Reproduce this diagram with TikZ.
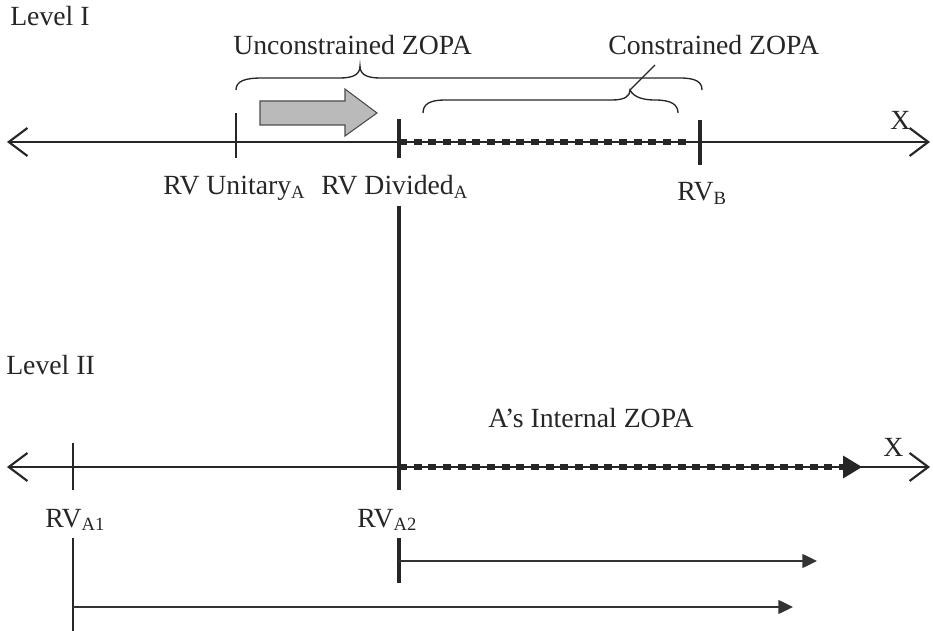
\documentclass[tikz,border=0pt]{standalone}
\usepackage{fontspec}
\setmainfont{Liberation Serif}
\usetikzlibrary{arrows.meta}
\newcommand\sbs[1]{\raisebox{-0.3ex}{\fontsize{14}{14}\selectfont #1}}
\tikzset{
  lbl/.style={inner sep=0pt, anchor=base west, font=\fontsize{20.8}{24}\selectfont, text=black!85},
  axis/.style={line width=2pt, black!85, {Straight Barb[length=14pt,width=21pt,line width=1.6pt]}-{Straight Barb[length=14pt,width=21pt,line width=1.6pt]}},
  zopa/.style={line width=5.2pt, black!85, dash pattern=on 6pt off 5pt},
  thicktick/.style={line width=3.7pt, black!85},
  thintick/.style={line width=0.9pt, black!85},
  brace/.style={line width=1pt, black!85},
  thinarrow/.style={line width=1pt, black!80, -{Triangle[length=11pt,width=10.5pt]}},
}
\begin{document}
\begin{tikzpicture}[x=0.75pt,y=-0.75pt]
\useasboundingbox (0,0) rectangle (933,631);
% coordinates
\coordinate (aL) at (7,142);
\coordinate (aR) at (930,142);
\coordinate (bL) at (7,467);
\coordinate (bR) at (930,467);
\coordinate (dTop) at (399,119);
\coordinate (dA) at (399,142);
\coordinate (dB) at (399,158);
\coordinate (dC) at (399,206);
\coordinate (dD) at (399,467);
\coordinate (dE) at (399,490);
\coordinate (dF) at (399,538);
\coordinate (dG) at (399,561);
\coordinate (dH) at (399,583);
\coordinate (uT) at (236,113);
\coordinate (uB) at (236,158);
\coordinate (bT) at (700,120);
\coordinate (bM) at (700,142);
\coordinate (bB) at (700,165);
\coordinate (a1T) at (73,443);
\coordinate (a1B) at (73,490);
\coordinate (a1C) at (73,538);
\coordinate (a1M) at (73,607);
\coordinate (a1E) at (73,631);
\coordinate (zEnd) at (688,142);
\coordinate (izEnd) at (862,467);
\coordinate (r2End) at (817,561);
\coordinate (r1End) at (793,607);
\coordinate (ptrA) at (630,90);
\coordinate (ptrB) at (655,65);

% texts
\node[lbl] (lev1) at (10,26) {Level I};
\node[lbl] (ucz) at (233,55) {Unconstrained ZOPA};
\node[lbl] (cz) at (608,55) {Constrained ZOPA};
\node[lbl] (rvu) at (163,195) {RV Unitary\sbs{A}};
\node[lbl] (rvd) at (321,195) {RV Divided\sbs{A}};
\node[lbl] (rvb) at (677,201) {RV\sbs{B}};
\node[lbl] (x1) at (890,130) {X};
\node[lbl] (lev2) at (6,374) {Level II};
\node[lbl] (iz) at (488,427) {A’s Internal ZOPA};
\node[lbl] (x2) at (883,456) {X};
\node[lbl] (rva1) at (45,527) {RV\sbs{A1}};
\node[lbl] (rva2) at (357,527) {RV\sbs{A2}};

% axes
\draw[axis] (aL) -- (aR);
\draw[axis] (bL) -- (bR);

% zopa dotted segments
\draw[zopa] (dA) -- (zEnd);
\draw[zopa] (dD) -- (843,467);
\fill[black!85] (843,455.5) -- (izEnd) -- (843,478.5) -- cycle;

% ticks
\draw[thintick] (uT) -- (uB);
\draw[thicktick] (dTop) -- (dB);
\draw[thicktick] (dC) -- (dE);
\draw[thicktick] (dF) -- (dH);
\draw[thicktick] (bT) -- (bB);
\draw[thintick] (a1T) -- (a1B);
\draw[thintick] (a1C) -- (a1E);

% range arrows
\draw[thinarrow] (dG) -- (r2End);
\draw[thinarrow] (a1M) -- (r1End);

% grey arrow
\filldraw[fill=black!27, draw=black!70, line width=0.8pt]
  (260,101) -- (345,101) -- (345,89) -- (377,113) -- (345,136) -- (345,125) -- (260,125) -- cycle;

% upper brace
\draw[brace] (236,90) .. controls (236,81) and (245,78) .. (262,78) -- (340,78)
  .. controls (354,78) and (360,74) .. (360,66)
  .. controls (360,74) and (366,78) .. (380,78) -- (680,78)
  .. controls (696,78) and (702,82) .. (702,90);
% lower brace
\draw[brace] (423,113) .. controls (423,104) and (430,100) .. (445,100) -- (612,100)
  .. controls (625,100) and (630,96) .. (ptrA)
  .. controls (634,98) and (645,100) .. (655,100)
  .. controls (672,100) and (678,105) .. (678,113);
\draw[brace] (ptrA) -- (ptrB);
\end{tikzpicture}
\end{document}
